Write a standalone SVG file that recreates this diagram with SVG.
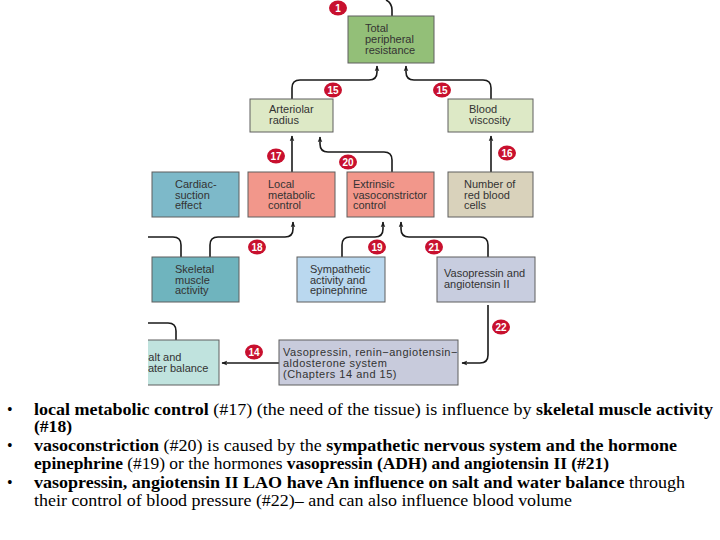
<svg xmlns="http://www.w3.org/2000/svg" width="720" height="540" viewBox="0 0 720 540">
<style>
.box{stroke:#5e5e5e;stroke-width:1}
.lbl{font-family:"Liberation Sans",Arial,sans-serif;font-size:11px;fill:#333}
.wide{letter-spacing:0.5px}
.badge ellipse{fill:#c8102e}
.badge text{font-family:"Liberation Sans",Arial,sans-serif;font-size:10px;font-weight:bold;fill:#fff;text-anchor:middle}
.conn path{fill:none;stroke:#1a1a1a;stroke-width:1.6}
.body{font-family:"Liberation Serif","Times New Roman",serif;font-size:16px;fill:#000}
.b{font-weight:bold}
</style>
<defs>
<marker id="ah" viewBox="0 0 10 10" refX="9" refY="5" markerWidth="6" markerHeight="6" orient="auto" markerUnits="userSpaceOnUse">
<path d="M0,1 L10,5 L0,9 L3,5 z" fill="#1a1a1a"/>
</marker>
<clipPath id="clip"><rect x="148" y="0" width="572" height="390"/></clipPath>
</defs>
<rect width="720" height="540" fill="#fff"/>
<g clip-path="url(#clip)">
<g class="conn" id="connectors">
<path d="M386,0 Q392,3 392,10 L392,16"/>
<path d="M292,99 L292,88 Q292,80 300,80 L369,80 Q377,80 377,72 L377,66" marker-end="url(#ah)"/>
<path d="M491,99 L491,88 Q491,80 483,80 L414,80 Q406,80 406,72 L406,66" marker-end="url(#ah)"/>
<path d="M292,172 L292,136" marker-end="url(#ah)"/>
<path d="M392,172 L392,160 Q392,152 384,152 L328,152 Q320,152 320,144 L320,137" marker-end="url(#ah)"/>
<path d="M491,172 L491,136" marker-end="url(#ah)"/>
<path d="M181,257 L181,245 Q181,237 173,237 L148,237"/>
<path d="M210,257 L210,245 Q210,237 218,237 L285,237 Q293,237 293,229 L293,222" marker-end="url(#ah)"/>
<path d="M342,257 L342,245 Q342,237 350,237 L375,237 Q383,237 383,229 L383,222" marker-end="url(#ah)"/>
<path d="M488,257 L488,245 Q488,237 480,237 L409,237 Q401,237 401,229 L401,222" marker-end="url(#ah)"/>
<path d="M488,305 L488,355 Q488,363 480,363 L462,363" marker-end="url(#ah)"/>
<path d="M279,363 L222,363" stroke-width="1.2" marker-end="url(#ah)"/>
<path d="M148,323 L168,323 Q176,323 176,331 L176,340"/>
</g>
<g id="n-tpr"><rect class="box" x="348" y="16" width="86" height="47" fill="#93bf78"/>
<text class="lbl" x="365" y="32">Total</text><text class="lbl" x="365" y="43">peripheral</text><text class="lbl" x="365" y="53.5">resistance</text></g>
<g id="n-arteriolar"><rect class="box" x="250" y="99" width="83" height="33" fill="#dde9c6"/>
<text class="lbl" x="269" y="113">Arteriolar</text><text class="lbl" x="269" y="124">radius</text></g>
<g id="n-viscosity"><rect class="box" x="448" y="99" width="85" height="33" fill="#dde9c6"/>
<text class="lbl" x="469" y="113">Blood</text><text class="lbl" x="469" y="124">viscosity</text></g>
<g id="n-cardiac"><rect class="box" x="152" y="172" width="87" height="45" fill="#7db9c9"/>
<text class="lbl" x="175" y="188">Cardiac-</text><text class="lbl" x="175" y="198.5">suction</text><text class="lbl" x="175" y="209">effect</text></g>
<g id="n-local"><rect class="box" x="248" y="172" width="87" height="45" fill="#f2978b"/>
<text class="lbl" x="268" y="188">Local</text><text class="lbl" x="268" y="198.5">metabolic</text><text class="lbl" x="268" y="209">control</text></g>
<g id="n-extrinsic"><rect class="box" x="347" y="172" width="87" height="45" fill="#f2978b"/>
<text class="lbl" x="353" y="188">Extrinsic</text><text class="lbl" x="353" y="198.5">vasoconstrictor</text><text class="lbl" x="353" y="209">control</text></g>
<g id="n-rbc"><rect class="box" x="448" y="172" width="85" height="45" fill="#d9d2bb"/>
<text class="lbl" x="464" y="188">Number of</text><text class="lbl" x="464" y="198.5">red blood</text><text class="lbl" x="464" y="209">cells</text></g>
<g id="n-skeletal"><rect class="box" x="152" y="257" width="87" height="45" fill="#6fb4be"/>
<text class="lbl" x="175" y="273">Skeletal</text><text class="lbl" x="175" y="283.5">muscle</text><text class="lbl" x="175" y="294">activity</text></g>
<g id="n-sympathetic"><rect class="box" x="297" y="257" width="88" height="45" fill="#bad8ef"/>
<text class="lbl" x="310" y="273">Sympathetic</text><text class="lbl" x="310" y="283.5">activity and</text><text class="lbl" x="310" y="294">epinephrine</text></g>
<g id="n-vasoang"><rect class="box" x="437" y="257" width="98" height="45" fill="#c8cddf"/>
<text class="lbl" x="444" y="277">Vasopressin and</text><text class="lbl" x="444" y="288">angiotensin II</text></g>
<g id="n-raas"><rect class="box" x="279" y="340" width="179" height="45" fill="#c8cbdc"/>
<text class="lbl wide" x="283" y="356">Vasopressin, renin−angiotensin−</text><text class="lbl wide" x="283" y="367">aldosterone system</text><text class="lbl wide" x="283" y="378">(Chapters 14 and 15)</text></g>
<g id="n-salt"><rect class="box" x="120" y="340" width="99" height="45" fill="#c0e3de"/>
<text class="lbl" x="141" y="361">Salt and</text><text class="lbl" x="140" y="372">water balance</text></g>
<g id="badges">
<g class="badge"><ellipse cx="338" cy="8" rx="9" ry="7.5"/><text x="338" y="11.5">1</text></g>
<g class="badge"><ellipse cx="333" cy="90" rx="9" ry="7.5"/><text x="333" y="93.5">15</text></g>
<g class="badge"><ellipse cx="442" cy="90" rx="9" ry="7.5"/><text x="442" y="93.5">15</text></g>
<g class="badge"><ellipse cx="276" cy="156" rx="9" ry="7.5"/><text x="276" y="159.5">17</text></g>
<g class="badge"><ellipse cx="348" cy="162" rx="9" ry="7.5"/><text x="348" y="165.5">20</text></g>
<g class="badge"><ellipse cx="507" cy="153" rx="9" ry="7.5"/><text x="507" y="156.5">16</text></g>
<g class="badge"><ellipse cx="257" cy="247" rx="9" ry="7.5"/><text x="257" y="250.5">18</text></g>
<g class="badge"><ellipse cx="377" cy="247" rx="9" ry="7.5"/><text x="377" y="250.5">19</text></g>
<g class="badge"><ellipse cx="434" cy="247" rx="9" ry="7.5"/><text x="434" y="250.5">21</text></g>
<g class="badge"><ellipse cx="501" cy="327" rx="9" ry="7.5"/><text x="501" y="330.5">22</text></g>
<g class="badge"><ellipse cx="254" cy="352" rx="9" ry="7.5"/><text x="254" y="355.5">14</text></g>
</g>
</g>
<g id="notes" class="body">
<text x="7" y="415">•</text><text x="7" y="451">•</text><text x="7" y="488">•</text>
<text x="34" y="415" textLength="679" lengthAdjust="spacingAndGlyphs"><tspan class="b">local metabolic control</tspan> (#17) (the need of the tissue) is influence by <tspan class="b">skeletal muscle activity</tspan></text>
<text x="34" y="432" class="b" textLength="38" lengthAdjust="spacingAndGlyphs">(#18)</text>
<text x="34" y="451" textLength="643" lengthAdjust="spacingAndGlyphs"><tspan class="b">vasoconstriction</tspan> (#20) is caused by the <tspan class="b">sympathetic nervous system and the hormone</tspan></text>
<text x="34" y="469" textLength="575" lengthAdjust="spacingAndGlyphs"><tspan class="b">epinephrine</tspan> (#19) or the hormones <tspan class="b">vasopressin (ADH) and angiotensin II (#21)</tspan></text>
<text x="34" y="488" textLength="651" lengthAdjust="spacingAndGlyphs"><tspan class="b">vasopressin, angiotensin II LAO have An influence on salt and water balance</tspan> through</text>
<text x="34" y="506" textLength="538" lengthAdjust="spacingAndGlyphs">their control of blood pressure (#22)– and can also influence blood volume</text>
</g>
</svg>
